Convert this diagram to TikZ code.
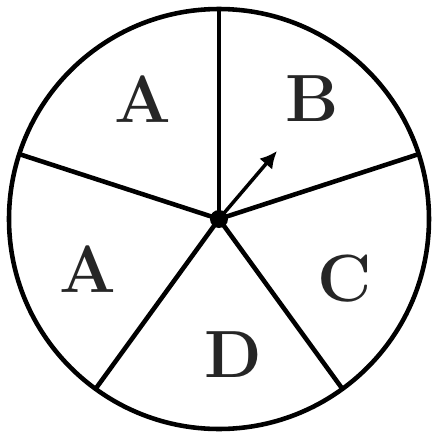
\documentclass[tikz,border=0pt]{standalone}
\usepackage{tikz}
\usetikzlibrary{arrows.meta}

\begin{document}
\begin{tikzpicture}[line width=1.3pt,
  lbl/.style={font=\fontsize{19}{22}\selectfont\bfseries,text=black!85}]
  \useasboundingbox (-2.19,-2.19) rectangle (2.14,2.19);
  \coordinate (o) at (0,0);
  \draw (o) circle (2.1);
  \foreach \a [count=\i] in {90,162,234,306,18} {
    \coordinate (p\i) at (\a:2.1);
    \draw (o) -- (p\i);
  }
  \fill (o) circle (0.09);
  \coordinate (tip) at (0.58,0.68);
  \draw[line width=1pt,-{Latex[length=1.7mm,width=1.7mm]}] (o) -- (tip);
  \node[lbl] (sa) at (-0.76,1.2) {A};
  \node[lbl] (sb) at (0.93,1.2) {B};
  \node[lbl] (sa2) at (-1.31,-0.5) {A};
  \node[lbl] (sc) at (1.26,-0.6) {C};
  \node[lbl] (sd) at (0.14,-1.36) {D};
\end{tikzpicture}
\end{document}
